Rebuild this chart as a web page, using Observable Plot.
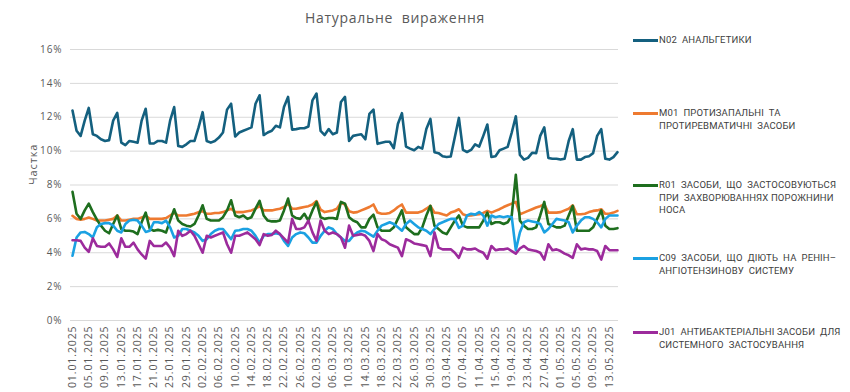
<!DOCTYPE html>
<html><head><meta charset="utf-8">
<script src="https://cdn.jsdelivr.net/npm/d3@7"></script>
<script src="https://cdn.jsdelivr.net/npm/@observablehq/plot@0.6"></script>
<style>
body{margin:0;background:#fff;font-family:"Open Sans",sans-serif;}
#wrap{position:relative;width:850px;height:392px;overflow:hidden;background:#fff;}
#title{position:absolute;top:8px;left:0;width:790px;text-align:center;font-size:14px;color:#595959;letter-spacing:0.7px;white-space:pre;}
#chart{position:absolute;top:30px;left:0;}
#chart svg text{letter-spacing:0.9px;}
#legend{position:absolute;left:633px;top:0;width:217px;height:392px;}
.item{position:absolute;left:0;display:flex;align-items:flex-start;}
.sw{width:25px;height:3px;margin-top:5px;flex:none;}
.lab{margin-left:1px;font-family:Roboto,sans-serif;font-size:9.5px;line-height:12.7px;color:#404040;letter-spacing:0.15px;white-space:pre;}
</style>
</head><body>
<div id="wrap">
  <div id="title"></div>
  <div id="chart"></div>
  <div id="legend"></div>
</div>
<script>
const titleText = "Натуральне  вираження";
const yLabel = "Частка";
const yTicks = [0, 2, 4, 6, 8, 10, 12, 14, 16];
const tickLabels = ["01.01.2025","05.01.2025","09.01.2025","13.01.2025","17.01.2025","21.01.2025","25.01.2025","29.01.2025",
"02.02.2025","06.02.2025","10.02.2025","14.02.2025","18.02.2025","22.02.2025","26.02.2025","02.03.2025","06.03.2025",
"10.03.2025","14.03.2025","18.03.2025","22.03.2025","26.03.2025","30.03.2025","03.04.2025","07.04.2025","11.04.2025",
"15.04.2025","19.04.2025","23.04.2025","27.04.2025","01.05.2025","05.05.2025","09.05.2025","13.05.2025"];
const firstDay = "01.01.2025";
const lastDay = "15.05.2025";

const seriesNames = [
  "N02  АНАЛЬГЕТИКИ",
  "M01  ПРОТИЗАПАЛЬНІ  ТА\nПРОТИРЕВМАТИЧНІ  ЗАСОБИ",
  "R01  ЗАСОБИ,  ЩО  ЗАСТОСОВУЮТЬСЯ\nПРИ  ЗАХВОРЮВАННЯХ ПОРОЖНИНИ\nНОСА",
  "C09  ЗАСОБИ,  ЩО  ДІЮТЬ  НА  РЕНІН–\nАНГІОТЕНЗИНОВУ  СИСТЕМУ",
  "J01  АНТИБАКТЕРІАЛЬНІ ЗАСОБИ  ДЛЯ\nСИСТЕМНОГО  ЗАСТОСУВАННЯ"
];
const seriesColors = ["#14607f", "#ee7a30", "#1e6e1e", "#1ba1e2", "#9c2b9c"];

const n02 = [12.4,11.2,10.9,11.8,12.55,11.0,10.9,10.7,10.6,10.65,11.8,12.26,10.5,10.35,10.6,10.55,10.5,11.8,12.5,10.45,
10.45,10.6,10.6,10.5,11.8,12.6,10.3,10.25,10.4,10.6,10.6,11.4,12.3,10.6,10.5,10.6,10.8,11.1,12.45,12.8,
10.86,11.1,11.2,11.3,11.4,12.8,13.3,10.95,11.1,11.2,11.5,11.4,12.6,13.2,11.27,11.3,11.35,11.35,11.45,13.0,
13.4,11.2,10.95,11.3,11.0,11.1,12.9,13.2,10.6,10.9,10.95,11.0,10.7,12.2,12.45,10.43,10.5,10.55,10.55,10.17,
11.6,12.24,10.27,10.15,10.05,10.25,10.15,11.3,11.9,9.94,9.88,9.7,9.65,9.68,10.82,11.96,10.07,9.95,10.07,10.4,
10.27,10.9,11.57,9.65,9.7,10.05,10.15,10.25,11.1,12.06,9.78,9.5,9.6,9.9,9.88,10.9,11.4,9.6,9.55,9.55,
9.5,9.55,10.6,11.3,9.5,9.5,9.65,9.7,9.88,10.9,11.3,9.55,9.5,9.65,9.94];

const m01 = [6.18,6.0,5.95,6.0,6.08,6.0,5.9,5.9,5.9,5.95,6.0,6.2,5.9,5.9,5.95,6.0,6.0,6.08,6.18,6.0,
6.0,6.0,6.0,6.05,6.2,6.35,6.2,6.2,6.2,6.25,6.3,6.4,6.45,6.3,6.3,6.35,6.35,6.4,6.5,6.6,
6.4,6.4,6.4,6.45,6.5,6.6,6.75,6.5,6.5,6.5,6.55,6.6,6.7,6.9,6.6,6.6,6.65,6.7,6.75,6.85,
7.05,6.55,6.4,6.45,6.5,6.6,6.95,6.85,6.45,6.37,6.4,6.5,6.6,6.7,6.85,6.37,6.3,6.3,6.35,6.5,
6.7,6.85,6.37,6.37,6.37,6.37,6.45,6.6,6.77,6.37,6.35,6.27,6.2,6.37,6.45,6.57,6.27,6.18,6.2,6.25,
6.27,6.35,6.47,6.37,6.47,6.57,6.7,6.8,6.9,7.0,6.27,6.37,6.47,6.57,6.67,6.75,6.86,6.37,6.37,6.37,
6.4,6.5,6.6,6.8,6.27,6.27,6.3,6.4,6.47,6.5,6.57,6.3,6.3,6.37,6.47];

const r01 = [7.6,6.3,6.0,6.5,6.9,6.4,5.95,5.6,5.3,5.15,5.7,6.2,5.4,5.3,5.3,5.25,5.1,5.8,6.37,5.4,
5.3,5.35,5.3,5.2,5.9,6.57,5.9,5.7,5.6,5.55,5.7,6.2,6.8,6.0,5.9,5.9,5.9,6.1,6.5,7.1,
6.2,6.1,6.2,6.0,6.1,6.6,7.06,6.2,5.9,5.85,5.85,5.9,6.5,7.2,6.2,6.05,6.0,6.3,5.9,6.5,
7.0,6.1,6.0,6.05,6.05,6.0,7.0,6.9,6.1,5.9,5.8,5.5,5.5,6.0,6.25,5.5,5.3,5.3,5.3,5.5,
6.0,6.5,5.5,5.3,5.1,5.1,5.5,6.2,6.77,5.6,5.4,5.2,5.1,5.5,5.9,6.2,5.6,5.5,5.5,5.5,
5.5,5.9,6.37,5.7,5.8,5.8,5.7,5.8,6.2,8.6,5.9,5.6,5.4,5.4,5.5,6.2,7.0,5.7,5.6,5.5,
5.5,5.6,6.2,6.77,5.3,5.3,5.3,5.3,5.5,6.0,6.5,5.6,5.4,5.4,5.45];

const c09 = [3.82,4.9,5.2,5.23,5.1,4.9,5.5,5.7,5.75,5.75,5.6,5.3,5.2,5.7,5.9,5.95,5.9,5.6,5.23,5.3,
5.8,5.8,5.75,5.9,5.5,4.9,5.0,5.4,5.4,5.3,5.2,5.0,4.7,4.8,5.1,5.3,5.4,5.4,5.1,4.8,
5.3,5.33,5.4,5.4,5.3,5.0,4.6,5.0,5.1,5.1,5.15,5.1,4.7,4.4,4.9,5.1,5.2,5.15,4.9,4.6,
4.6,5.0,5.3,5.5,5.4,5.1,4.9,4.7,4.7,5.0,5.2,5.3,5.25,5.1,4.95,5.3,5.6,5.7,5.8,5.7,
5.5,5.3,5.7,5.9,5.7,5.5,5.4,5.3,5.1,5.4,5.7,5.8,5.9,6.0,6.0,5.47,5.6,6.2,6.3,6.25,
6.4,6.2,5.6,6.2,6.1,6.15,6.1,6.15,6.1,4.15,5.2,5.8,5.9,5.85,5.8,5.7,5.2,5.4,5.7,6.0,
5.95,5.9,5.8,5.2,5.6,5.9,6.1,6.1,6.0,5.8,5.5,6.0,6.2,6.2,6.2];

const j01 = [4.74,4.74,4.7,4.3,4.05,4.85,4.4,4.35,4.35,4.55,4.2,3.75,4.85,4.35,4.35,4.6,4.2,3.9,3.65,4.7,
4.4,4.4,4.4,4.6,4.3,3.8,5.3,5.0,5.1,5.3,5.0,4.5,4.0,5.0,4.9,5.0,5.1,5.2,4.5,4.0,
5.0,5.0,5.1,5.2,5.0,4.8,4.45,5.1,5.0,5.05,5.3,5.1,4.85,4.6,6.0,5.4,5.4,5.5,5.9,5.2,
4.7,5.9,5.3,5.1,5.2,5.1,4.9,4.3,5.6,5.0,5.05,5.1,5.0,4.7,4.1,5.1,4.8,4.7,4.5,4.4,
4.3,3.8,4.8,4.7,4.55,4.5,4.45,4.4,3.8,5.2,4.3,4.2,4.2,4.2,4.0,3.7,4.3,4.2,4.2,4.25,
4.1,4.0,3.65,4.4,4.15,4.2,4.2,4.25,4.1,3.95,4.25,4.4,4.2,4.15,4.1,4.0,3.6,4.5,4.15,4.2,
4.1,3.95,3.85,3.7,4.5,4.2,4.25,4.2,4.2,4.1,3.6,4.4,4.15,4.15,4.15];

const seriesValues = [n02, m01, r01, c09, j01];

const parse = d3.utcParse("%d.%m.%Y");
const fmt = d3.utcFormat("%d.%m.%Y");
const dates = d3.utcDay.range(parse(firstDay), d3.utcDay.offset(parse(lastDay), 1));
const tickDates = tickLabels.map(parse);

document.getElementById("title").textContent = titleText;

const lineMarks = seriesValues.map((vals, i) =>
  Plot.line(vals, {x: dates, y: d => d, stroke: seriesColors[i], strokeWidth: 2.6, strokeLinejoin: "round", strokeLinecap: "round"})
);

const chart = Plot.plot({
  width: 625,
  height: 362,
  marginLeft: 70,
  marginRight: 7,
  marginTop: 19,
  marginBottom: 72,
  style: {fontFamily: "Open Sans, sans-serif", fontSize: "10px", color: "#595959", background: "#fff"},
  x: {type: "utc", domain: [dates[0], dates[dates.length - 1]], insetLeft: 2, insetRight: 1},
  y: {domain: [0, 16]},
  marks: [
    Plot.ruleY(yTicks, {stroke: "#d9d9d9", strokeWidth: 1}),
    Plot.axisY({ticks: yTicks, tickFormat: d => d + "%", tickSize: 0, tickPadding: 8, label: null, fill: "#595959"}),
    Plot.axisX({ticks: tickDates, tickFormat: fmt, tickRotate: -90, tickSize: 0, tickPadding: 5, label: null, fill: "#595959", fontSize: 10.5}),
    Plot.text([yLabel], {frameAnchor: "left", dx: -37, rotate: -90, fill: "#595959", fontSize: 11}),
    ...lineMarks
  ]
});
document.getElementById("chart").appendChild(chart);

const legendTops = [34, 107, 179, 252, 326];
const legend = document.getElementById("legend");
seriesNames.forEach((name, i) => {
  const item = document.createElement("div");
  item.className = "item";
  item.style.top = legendTops[i] + "px";
  const sw = document.createElement("div");
  sw.className = "sw";
  sw.style.background = seriesColors[i];
  const lab = document.createElement("div");
  lab.className = "lab";
  lab.textContent = name;
  item.appendChild(sw);
  item.appendChild(lab);
  legend.appendChild(item);
});
</script>
</body></html>
